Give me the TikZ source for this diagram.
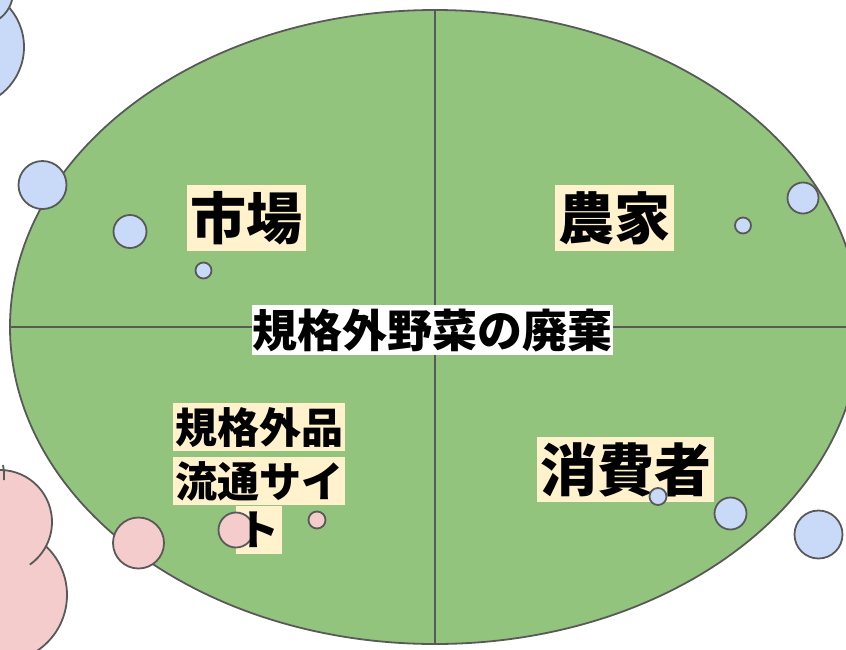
\documentclass[tikz,border=0pt]{standalone}
\usepackage{fontspec}
\newfontfamily\cjk{Noto Sans CJK JP}
\usetikzlibrary{shapes.geometric}
\definecolor{ovalgreen}{HTML}{93C47D}
\definecolor{dotblue}{HTML}{C9DAF8}
\definecolor{dotpink}{HTML}{F4CCCC}
\definecolor{labelbg}{HTML}{FFF2CC}
\definecolor{edgegray}{HTML}{595959}
\begin{document}
\begin{tikzpicture}[x=1pt,y=-1pt,
  edge/.style={draw=edgegray, line width=1.8pt},
  bubble/.style={circle, edge, inner sep=0pt},
  bluebub/.style={bubble, fill=dotblue},
  pinkbub/.style={bubble, fill=dotpink},
  biglabel/.style={fill=labelbg, font=\cjk\bfseries\fontsize{56}{60}\selectfont, text height=49.3pt, text depth=6.7pt, inner xsep=3.5pt, inner ysep=5pt},
  conslabel/.style={fill=labelbg, font=\cjk\bfseries\fontsize{57}{60}\selectfont, text height=50.2pt, text depth=6.8pt, inner xsep=3pt, inner ysep=4pt},
  midlabel/.style={fill=white, font=\cjk\bfseries\fontsize{45}{50}\selectfont, text height=39.6pt, text depth=5.4pt, inner xsep=0.5pt, inner ysep=2.5pt},
  smalllabel/.style={fill=labelbg, font=\cjk\bfseries\fontsize{42}{46}\selectfont, text height=37pt, text depth=5pt, inner xsep=2pt, inner ysep=3pt}
]
\useasboundingbox (0,0) rectangle (846,649);

% main oval and its cross
\node[ellipse, edge, fill=ovalgreen, minimum width=850pt, minimum height=634pt, inner sep=0pt] (E) at (435,327) {};
\draw[edge] (E.north) -- (E.south);
\draw[edge] (E.west) -- (E.east);

% blue cloud, top left
\filldraw[edge, fill=dotblue] (-36,47) circle[radius=60];
\filldraw[edge, fill=dotblue] (-20,-8) circle[radius=33];

% pink cloud, bottom left
\filldraw[edge, fill=dotpink] (0,595) circle[radius=67];
\fill[dotpink] (0,522) circle[radius=52];
\draw[edge] (0,522) ++(-100:52) arc[start angle=-100, end angle=55, radius=52];
\draw[edge] (3,465) .. controls (4,470) .. (4,480);

% labels
\node[biglabel] (ichiba) at (246.5,218) {市場};
\node[biglabel] (nouka) at (614.5,218) {農家};
\node[conslabel] (shohi) at (625.5,469.5) {消費者};
\node[midlabel] (center) at (432.5,330) {規格外野菜の廃棄};
\node[smalllabel] (site1) at (259,427) {規格外品};
\node[smalllabel] (site2) at (259,481) {流通サイ};
\node[smalllabel] (site3bg) at (258.5,529.5) {\phantom{ト}};

% bubbles
\node[bluebub, minimum size=33pt] (b1) at (130,231.5) {};
\node[bluebub, minimum size=16pt] (b2) at (203.5,270.5) {};
\node[bluebub, minimum size=48pt] (b3) at (42.5,185) {};
\node[bluebub, minimum size=16pt] (b4) at (743,225.5) {};
\node[bluebub, minimum size=31pt] (b5) at (803,198) {};
\node[bluebub, minimum size=17pt] (b6) at (658,496.5) {};
\node[bluebub, minimum size=32pt] (b7) at (730.5,513.5) {};
\node[bluebub, minimum size=48pt] (b8) at (818.5,534.5) {};
\node[pinkbub, minimum size=51pt] (p1) at (138.5,543) {};
\node[pinkbub, minimum size=35pt] (p2) at (236,530) {};
\node[pinkbub, minimum size=17pt] (p3) at (317,520) {};

\node[smalllabel, fill=none] (site3) at (site3bg) {ト};
\end{tikzpicture}
\end{document}
